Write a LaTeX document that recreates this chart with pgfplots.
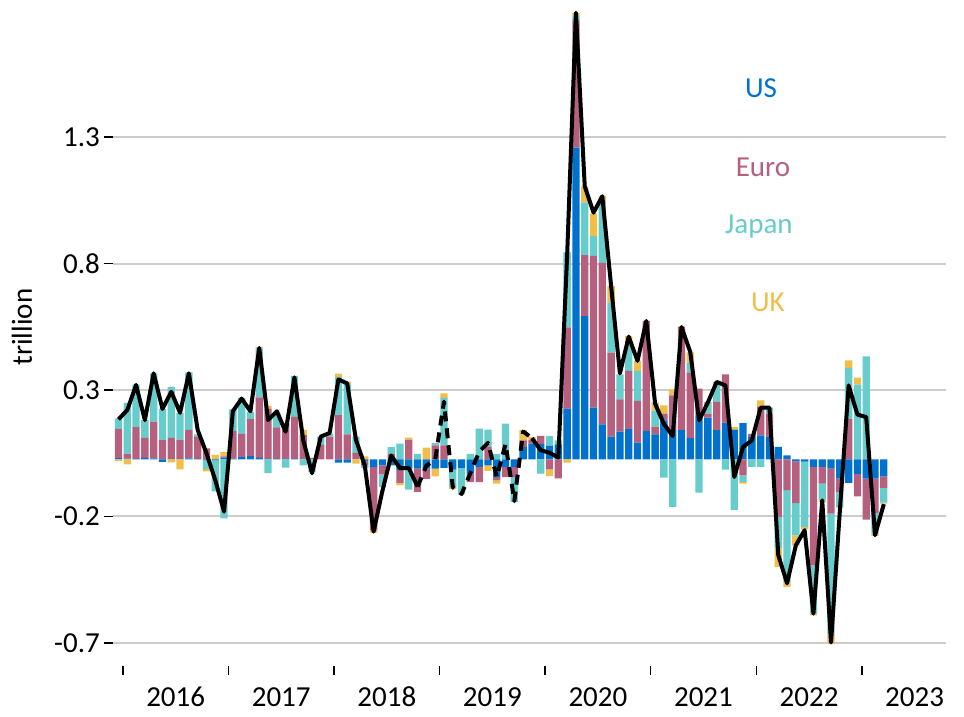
\documentclass[border=0pt]{standalone}
\usepackage{fontspec}
\setmainfont{Carlito}
\usepackage{pgfplots}
\usepackage{pgfplotstable}
\pgfplotsset{compat=1.18}

\definecolor{usblue}{RGB}{0,114,206}
\definecolor{euro}{RGB}{182,96,128}
\definecolor{japan}{RGB}{102,204,204}
\definecolor{uk}{RGB}{242,190,72}

% monthly flows, Jan 2016 = 0
\pgfplotstableread{
i US Euro Japan UK Total
0 0.005 0.115 0.042 -0.006 0.158
1 0.003 0.020 0.200 -0.020 0.195
2 0.002 0.125 0.168 0 0.294
3 0.006 0.079 0.070 0 0.155
4 0.004 0.145 0.191 0 0.340
5 -0.010 0.076 0.123 0 0.199
6 0.002 0.083 0.200 -0.012 0.267
7 0.002 0.076 0.106 -0.040 0.184
8 0.004 0.112 0.228 0 0.340
9 0.002 0.087 0.010 0 0.116
10 -0.003 0.043 -0.036 -0.009 0.024
11 -0.003 0 -0.124 0.018 -0.082
12 0.007 0.005 -0.233 0.016 -0.207
13 0.003 0.109 0.085 0 0.190
14 0.009 0.092 0.142 0 0.240
15 0.013 0.146 0.029 0 0.190
16 0.006 0.239 0.194 0.005 0.440
17 0.002 0.197 -0.055 0.012 0.155
18 0.002 0.124 0.058 0 0.190
19 0.002 0.140 -0.033 0 0.109
20 0.002 0.166 0.162 0 0.324
21 0 0.096 -0.024 0.020 0.076
22 0 0.006 -0.050 0 -0.055
23 0 0.057 0.033 0 0.090
24 0 0.090 0.012 0 0.104
25 -0.013 0.175 0.151 0.013 0.316
26 -0.013 0.099 0.199 0.009 0.300
27 0 0.025 0.065 -0.017 0.076
28 -0.008 -0.015 -0.012 0.012 -0.025
29 -0.030 -0.250 0 -0.010 -0.286
30 -0.024 -0.036 -0.050 0 -0.125
31 -0.024 0.022 0.026 0 0.015
32 -0.043 -0.050 0.062 -0.010 -0.035
33 -0.037 0.078 -0.083 0.008 -0.035
34 -0.037 -0.092 0.022 0 -0.108
35 -0.037 -0.040 0 0.046 -0.025
36 -0.037 0.055 0.009 -0.030 -0.002
37 -0.034 0.055 0.188 0.018 0.228
38 -0.041 0 -0.068 -0.008 -0.110
39 -0.034 0 -0.103 0 -0.137
40 -0.057 -0.033 0.022 0 -0.055
41 -0.030 -0.060 0.121 0 0.030
42 -0.024 0.049 0.068 -0.022 0.065
43 -0.070 -0.013 0.022 -0.013 -0.070
44 -0.030 -0.040 0.141 0 0.060
45 -0.030 -0.040 -0.098 0 -0.165
46 0.049 0.026 0 0.040 0.110
47 0.062 0.016 0 0.010 0.084
48 0.060 0.033 -0.057 0 0.036
49 0.053 -0.040 0.039 -0.026 0.026
50 0.059 -0.075 0.016 0 0.007
51 0.200 0.322 0.296 -0.013 0.805
52 1.232 0.501 0.020 0.012 1.765
53 0.566 0.241 0.209 0.063 1.080
54 0.204 0.600 0.078 0.089 0.975
55 0.138 0.639 0.244 0.020 1.040
56 0.090 0.332 0.198 0.066 0.685
57 0.109 0.128 0.099 0 0.340
58 0.119 0.231 0.119 0.018 0.485
59 0.066 0.165 0.119 0.040 0.389
60 0.112 0.435 0 0 0.547
61 0.099 0.030 0.063 0.033 0.220
62 0.154 0.026 -0.072 0.033 0.140
63 0.115 0.138 -0.188 0.022 0.092
64 0.115 0.408 0 0.003 0.523
65 0.084 0.260 0.036 0.043 0.424
66 0.174 0.105 -0.132 0 0.154
67 0.165 0.016 0.046 0 0.225
68 0.115 0.112 0.066 0.013 0.306
69 0.145 0.191 -0.041 0 0.292
70 0.117 0 -0.200 0.010 -0.070
71 0.143 -0.063 -0.026 -0.007 0.049
72 0.088 0.013 -0.030 0 0.075
73 0.095 0.112 -0.030 0.026 0.204
74 0.088 0.092 0.024 0 0.204
75 0.049 -0.228 -0.125 -0.072 -0.378
76 0.016 -0.122 -0.362 -0.020 -0.490
77 -0.008 -0.165 -0.128 -0.040 -0.340
78 -0.009 0 -0.258 -0.010 -0.280
79 -0.030 -0.389 -0.191 -0.007 -0.610
80 -0.030 -0.066 -0.066 -0.007 -0.162
81 -0.037 -0.178 -0.474 -0.040 -0.724
82 -0.076 -0.053 -0.062 0 -0.205
83 -0.093 0.161 0.200 0.030 0.292
84 -0.059 -0.087 0.295 0.028 0.177
85 -0.076 -0.162 0.407 0 0.167
86 -0.076 -0.138 -0.079 -0.010 -0.300
87 -0.067 -0.046 -0.058 -0.004 -0.177
}\flows

\pgfplotsset{
  base/.style={
    width=833pt, height=658pt, scale only axis,
    xmin=-0.625, xmax=94.07,
    ymin=-0.817, ymax=1.784,
  },
  bars/.style={draw=none, fill=#1},
}

\begin{document}
\begin{tikzpicture}
% grid, ticks and the positive parts of each stack
\begin{axis}[
  base,
  ybar stacked, bar width=0.83,
  axis line style={draw=none},
  tick pos=left, tick align=outside,
  major tick length=9pt,
  tick style={black, line width=1.4pt},
  ymajorgrids, grid style={black!20, line width=2pt},
  ytick={-0.726,-0.226,0.274,0.774,1.274},
  yticklabels={-0.7,-0.2,0.3,0.8,1.3},
  xtick={0.5,12.5,...,84.5},
  xticklabels={},
  extra x ticks={6.5,18.5,...,90.5},
  extra x tick labels={2016,2017,2018,2019,2020,2021,2022,2023},
  extra x tick style={major tick length=0pt, tick style={draw=none}},
  tick label style={font=\fontsize{29}{34}\selectfont, inner sep=0pt},
  yticklabel style={anchor=east, xshift=-4pt},
  xticklabel style={anchor=base, yshift=-40.5pt},
  /pgf/number format/assume math mode=true,
  ylabel={trillion},
  ylabel style={font=\fontsize{29}{34}\selectfont, at={(axis description cs:-0.1092,0.5152)}, anchor=center},
]
\addplot[bars=usblue] table[x=i, y expr={max(\thisrow{US},0)}] {\flows};
\addplot[bars=euro]   table[x=i, y expr={max(\thisrow{Euro},0)}] {\flows};
\addplot[bars=japan]  table[x=i, y expr={max(\thisrow{Japan},0)}] {\flows};
\addplot[bars=uk]     table[x=i, y expr={max(\thisrow{UK},0)}] {\flows};
\end{axis}

% negative parts, stacked down from zero
\begin{axis}[base, hide axis, ybar stacked, bar width=0.83]
\addplot[bars=usblue] table[x=i, y expr={min(\thisrow{US},0)}] {\flows};
\addplot[bars=euro]   table[x=i, y expr={min(\thisrow{Euro},0)}] {\flows};
\addplot[bars=japan]  table[x=i, y expr={min(\thisrow{Japan},0)}] {\flows};
\addplot[bars=uk]     table[x=i, y expr={min(\thisrow{UK},0)}] {\flows};
\end{axis}

% total line and labels
\begin{axis}[base, hide axis, clip mode=individual]
\addplot[black, line width=4pt, line join=round, restrict x to domain=0:34]
  table[x=i, y=Total] {\flows};
\addplot[black, line width=4pt, line join=round, dash pattern=on 10pt off 7pt, restrict x to domain=34:47]
  table[x=i, y=Total] {\flows};
\addplot[black, line width=4pt, line join=round, restrict x to domain=47:87]
  table[x=i, y=Total] {\flows};
\begin{scope}[font=\fontsize{29}{34}\selectfont]
\node[usblue, anchor=base] at (axis cs:73.04,1.431) {US};
\node[euro, anchor=base]   at (axis cs:73.26,1.117) {Euro};
\node[japan, anchor=base]  at (axis cs:72.81,0.893) {Japan};
\node[uk, anchor=base]     at (axis cs:73.83,0.583) {UK};
\end{scope}
\end{axis}
\path (current axis.south west) ++(-113pt,-48pt) rectangle ++(964pt,714pt);
\end{tikzpicture}
\end{document}
